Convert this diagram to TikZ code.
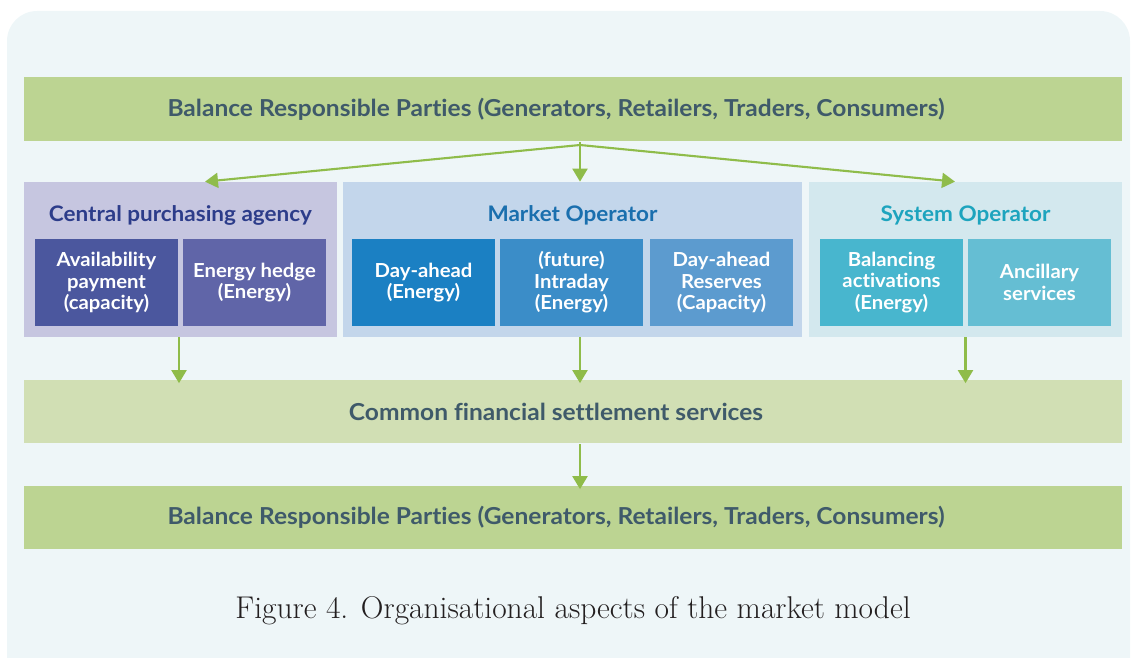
\documentclass[tikz,border=0pt]{standalone}
\usepackage{fontspec}
\newfontfamily\labelfont[FakeStretch=1.05,Ligatures=CommonOff]{Lato}
\usepackage{tikz}
\usetikzlibrary{arrows.meta,calc}
\definecolor{panelbg}{HTML}{EEF6F8}
\definecolor{bargreen}{HTML}{BCD492}
\definecolor{barlight}{HTML}{D1DFB4}
\definecolor{bartext}{HTML}{3F5A6A}
\definecolor{arrowgreen}{HTML}{8FBC4A}
\definecolor{cpabg}{HTML}{C6C6E0}
\definecolor{cpahead}{HTML}{2C3C8A}
\definecolor{cpaone}{HTML}{4B579E}
\definecolor{cpatwo}{HTML}{6065A8}
\definecolor{mobg}{HTML}{C3D6EB}
\definecolor{mohead}{HTML}{1A6FAE}
\definecolor{moone}{HTML}{1B80C3}
\definecolor{motwo}{HTML}{3B8DC8}
\definecolor{mothree}{HTML}{5C9BCF}
\definecolor{sobg}{HTML}{D3E8EE}
\definecolor{sohead}{HTML}{1DA4BE}
\definecolor{soone}{HTML}{48B6CE}
\definecolor{sotwo}{HTML}{65BED3}
\definecolor{captiontext}{HTML}{231F20}
\begin{document}
\begin{tikzpicture}[x=0.02cm,y=-0.02cm,
    bar/.style={rectangle, fill=#1, minimum width=21.96cm, minimum height=1.28cm,
        font=\labelfont\bfseries\fontsize{13.3}{15}\selectfont, text=bartext,
        execute at begin node=\kern-0.68cm},
    group/.style={rectangle, fill=#1, minimum width=6.26cm, minimum height=3.1cm},
    grouphead/.style={font=\labelfont\bfseries\fontsize{12.2}{14}\selectfont, text=#1},
    market/.style={rectangle, fill=#1, minimum width=2.86cm, minimum height=1.74cm,
        text=white, align=center, font=\labelfont\bfseries\fontsize{11}{12.2}\selectfont},
    flow/.style={draw=arrowgreen, line width=1.2pt, -{Triangle[width=0.3cm,length=0.26cm]}}]
    \useasboundingbox (0,0) rectangle (1131,658);
    % background panel
    \fill[panelbg, rounded corners=0.6cm] (7,11) rectangle (1130,690);

    % parties at the top
    \node[bar=bargreen, minimum height=1.3cm] (top) at (573,109)
        {Balance Responsible Parties (Generators, Retailers, Traders, Consumers)};

    % the three organisations
    \node[group=cpabg] (cpa) at (180.5,259.5) {};
    \node[group=mobg, minimum width=9.18cm] (mo) at (572.5,259.5) {};
    \node[group=sobg] (so) at (965.5,259.5) {};
    \node[grouphead=cpahead] (cpatitle) at (180.5,215) {Central purchasing agency};
    \node[grouphead=mohead] (motitle) at (572.5,215) {Market Operator};
    \node[grouphead=sohead] (sotitle) at (965.5,215) {System Operator};

    \node[market=cpaone] (avail) at (106.5,282.5) {Availability\\payment\\(capacity)};
    \node[market=cpatwo] (hedge) at (254.5,282.5) {Energy hedge\\(Energy)};
    \node[market=moone] (dayahead) at (423.5,282.5) {Day-ahead\\(Energy)};
    \node[market=motwo] (intraday) at (571.5,282.5) {(future)\\Intraday\\(Energy)};
    \node[market=mothree] (reserves) at (721.5,282.5) {Day-ahead\\Reserves\\(Capacity)};
    \node[market=soone] (balancing) at (891.5,282.5) {Balancing\\activations\\(Energy)};
    \node[market=sotwo] (ancillary) at (1039.5,282.5) {Ancillary\\services};

    % settlement and parties at the bottom
    \node[bar=barlight] (settle) at (573,411.5) {Common financial settlement services};
    \node[bar=bargreen] (bottom) at (573,517.5)
        {Balance Responsible Parties (Generators, Retailers, Traders, Consumers)};

    % arrows
    \coordinate (fan) at (580,145);
    \draw[draw=arrowgreen, line width=1.2pt] (top.south -| fan) -- (fan);
    \draw[flow] (fan) -- ([xshift=0.49cm]cpa.north);
    \draw[flow] (fan) -- (fan |- mo.north);
    \draw[flow] (fan) -- ([xshift=-0.21cm]so.north);
    \draw[flow] ([xshift=-0.03cm]cpa.south) -- ([xshift=-0.03cm,yshift=-0.08cm]cpa.south |- settle.north);
    \draw[flow] (fan |- mo.south) -- ([yshift=-0.08cm]fan |- settle.north);
    \draw[flow] (so.south) -- ([yshift=-0.08cm]so.south |- settle.north);
    \draw[flow] (fan |- settle.south) -- ([yshift=-0.08cm]fan |- bottom.north);

    % caption
    \node[text=captiontext, font=\fontsize{17.9}{20}\selectfont] (caption) at (573,611)
        {Figure 4. Organisational aspects of the market model};
\end{tikzpicture}
\end{document}
